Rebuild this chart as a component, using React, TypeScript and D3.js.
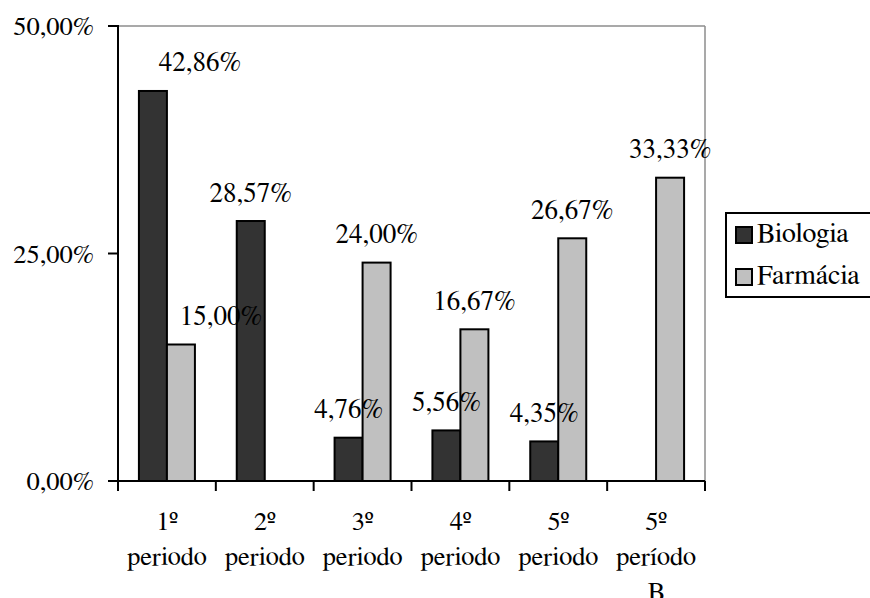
import React from "react";
import * as d3 from "d3";

const categories = ["1º periodo", "2º periodo", "3º periodo", "4º periodo", "5º periodo", "5º período B"];
const seriesNames = ["Biologia", "Farmácia"];
const biologia: (number | null)[] = [42.86, 28.57, 4.76, 5.56, 4.35, null];
const farmacia: (number | null)[] = [15.0, null, 24.0, 16.67, 26.67, 33.33];
const yTicks = [0, 25, 50];
const colors = ["#333333", "#c0c0c0"];

const W = 870;
const H = 598;
const plot = { left: 118, right: 705, top: 26, bottom: 481 };
const FONT = 'FreeSerif, "Liberation Serif", "Times New Roman", serif';

const fmt = (v: number) => v.toFixed(2).replace(".", ",") + "%";

export default function App() {
  const x = d3.scaleBand<string>().domain(categories).range([plot.left, plot.right]).paddingInner(0).paddingOuter(0);
  const inner = d3
    .scaleBand<string>()
    .domain(seriesNames)
    .range([0, x.bandwidth()])
    .paddingInner(0)
    .paddingOuter(0.747);
  const y = d3.scaleLinear().domain([0, 50]).range([plot.bottom, plot.top]);
  const seriesData = [biologia, farmacia];

  // Excel shifted two overlapping labels to the right
  const labelShift = (s: number, i: number) => (i === 0 ? (s === 0 ? 47 : 40) : 0);

  const boundaries = categories.map((c) => x(c) as number).concat([plot.right]);
  const ts = { fontFamily: FONT };

  return (
    <svg width={W} height={H} style={{ position: "absolute", left: 0, top: 0, background: "#fff", fontFamily: FONT }}>
      <rect x={0} y={0} width={W} height={H} fill="#fff" />
      <line x1={plot.left} x2={plot.right} y1={plot.top} y2={plot.top} stroke="#8c8c8c" strokeWidth={1.5} />
      <line x1={plot.right} x2={plot.right} y1={plot.top} y2={plot.bottom} stroke="#8c8c8c" strokeWidth={1.5} />

      {seriesData.map((arr, s) =>
        arr.map((v, i) =>
          v == null ? null : (
            <rect
              key={`b${s}-${i}`}
              x={(x(categories[i]) as number) + (inner(seriesNames[s]) as number)}
              y={y(v)}
              width={inner.bandwidth()}
              height={y(0) - y(v)}
              fill={colors[s]}
              stroke="#000"
              strokeWidth={2}
            />
          )
        )
      )}

      <line x1={plot.left} x2={plot.left} y1={plot.top - 1} y2={plot.bottom + 10} stroke="#000" strokeWidth={2} />
      <line x1={plot.left - 10} x2={plot.right} y1={plot.bottom} y2={plot.bottom} stroke="#000" strokeWidth={2} />
      {yTicks.map((t) => (
        <g key={`yt${t}`}>
          <line x1={plot.left - 10} x2={plot.left} y1={y(t)} y2={y(t)} stroke="#000" strokeWidth={2} />
          <text x={94} y={y(t) + 9} textAnchor="end" fontSize={26.5} fill="#000" style={ts}>
            {fmt(t)}
          </text>
        </g>
      ))}
      {boundaries.map((bx, i) => (
        <line key={`xt${i}`} x1={bx} x2={bx} y1={plot.bottom} y2={plot.bottom + 10} stroke="#000" strokeWidth={2} />
      ))}
      {categories.map((c) => {
        const cx = (x(c) as number) + x.bandwidth() / 2;
        const words = c.split(" ");
        return (
          <text key={`xl${c}`} x={cx} textAnchor="middle" fontSize={26.5} fill="#000" style={ts}>
            {words.map((w, k) => (
              <tspan key={k} x={cx} y={530 + k * 35}>
                {w}
              </tspan>
            ))}
          </text>
        );
      })}

      {seriesData.map((arr, s) =>
        arr.map((v, i) =>
          v == null ? null : (
            <text
              key={`l${s}-${i}`}
              x={(x(categories[i]) as number) + (inner(seriesNames[s]) as number) + inner.bandwidth() / 2 + labelShift(s, i)}
              y={y(v) - 19.5}
              textAnchor="middle"
              fontSize={27}
              fill="#000"
              style={ts}
            >
              {fmt(v)}
            </text>
          )
        )
      )}

      <rect x={726} y={213} width={150} height={84} fill="#fff" stroke="#000" strokeWidth={2} />
      {seriesNames.map((n, s) => (
        <g key={`lg${n}`}>
          <rect x={736} y={227 + s * 42} width={16} height={16} fill={colors[s]} stroke="#000" strokeWidth={2} />
          <text x={757} y={242 + s * 42} fontSize={28} fill="#000" style={ts}>
            {n}
          </text>
        </g>
      ))}
    </svg>
  );
}
